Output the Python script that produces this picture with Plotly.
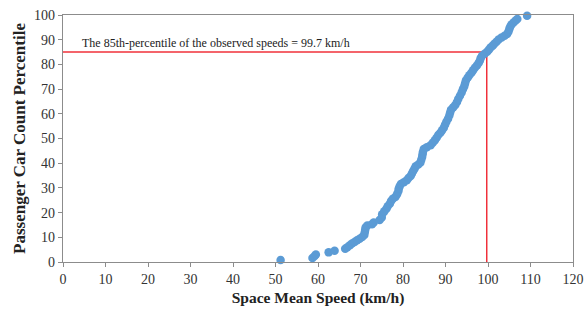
import plotly.graph_objects as go

speeds = [51.2, 58.7, 59.2, 59.5, 62.5, 63.9, 66.4, 66.9, 67.5, 68.0, 68.6, 69.2, 69.8, 70.4, 70.9,
          71.0, 71.1, 71.2, 71.6, 72.7, 73.1, 74.5, 75.0, 75.1, 75.6, 76.1, 76.4, 76.9, 77.2, 77.6,
          78.2, 78.6, 78.9, 79.0, 79.2, 79.5, 80.2, 80.9, 81.3, 81.8, 82.1, 82.4, 82.7, 83.0, 83.6,
          84.1, 84.3, 84.5, 84.6, 84.7, 84.9, 85.6, 86.5, 87.0, 87.5, 87.9, 88.3, 88.8, 89.2, 89.6,
          89.9, 90.2, 90.6, 90.9, 91.1, 91.3, 91.8, 92.3, 92.7, 93.0, 93.4, 93.8, 94.1, 94.4, 94.6,
          94.8, 95.2, 95.6, 96.1, 96.5, 96.9, 97.4, 97.8, 98.1, 98.3, 98.6, 99.2, 99.8, 100.2, 100.6,
          101.1, 101.5, 102.0, 102.5, 103.2, 103.9, 104.5, 104.8, 105.0, 105.2, 105.5, 106.0, 106.5,
          106.9, 109.2]
percentiles = [0.8, 1.6, 2.4, 3.0, 3.9, 4.6, 5.4, 6.0, 6.8, 7.5, 8.1, 8.8, 9.4, 10.1, 10.9,
               12.0, 13.0, 14.0, 14.8, 15.3, 16.0, 17.0, 18.0, 19.3, 20.5, 21.6, 22.6, 23.6, 24.7, 25.6,
               26.3, 27.4, 28.6, 29.7, 30.6, 31.6, 32.3, 33.1, 34.0, 34.8, 35.8, 36.8, 37.8, 38.8, 39.5,
               40.3, 41.4, 42.5, 43.6, 44.6, 45.7, 46.5, 47.3, 48.3, 49.3, 50.3, 51.4, 52.3, 53.3, 54.4,
               55.6, 56.8, 58.0, 59.3, 60.5, 61.6, 62.6, 63.6, 64.8, 66.0, 67.3, 68.6, 69.9, 71.1, 72.3,
               73.5, 74.6, 75.6, 76.6, 77.6, 78.6, 79.6, 80.6, 81.6, 82.6, 83.5, 84.3, 85.1, 85.9, 86.8,
               87.6, 88.4, 89.2, 90.1, 90.9, 91.6, 92.3, 93.2, 94.2, 95.2, 96.1, 97.0, 97.8,
               98.4, 99.7]

p85_level = 85
p85_speed = 99.7
label = "The 85th-percentile of the observed speeds = 99.7 km/h"
x_ticks = list(range(0, 121, 10))
y_ticks = list(range(0, 101, 10))

fig = go.Figure()
fig.add_trace(go.Scatter(
    x=speeds, y=percentiles, mode="markers",
    marker=dict(color="#5B9BD5", size=8.5, line=dict(width=0)),
    cliponaxis=False, showlegend=False,
))

fig.add_shape(type="line", x0=0, x1=p85_speed, y0=p85_level, y1=p85_level,
              line=dict(color="#F0303A", width=1.5), layer="below")
fig.add_shape(type="line", x0=p85_speed, x1=p85_speed, y0=0, y1=p85_level,
              line=dict(color="#F0303A", width=1.5), layer="below")

fig.add_annotation(x=4, y=88.8, text=label, showarrow=False, xanchor="left", yanchor="middle",
                   font=dict(family="Liberation Serif", size=12, color="#222"))

axis_common = dict(showgrid=False, zeroline=False, showline=True, linecolor="#8C8C8C", linewidth=1.3,
                   mirror=True, ticks="outside", ticklen=4, tickcolor="#8C8C8C", automargin=False,
                   tickfont=dict(family="Liberation Serif", size=14, color="#333"))

fig.update_xaxes(range=[0, 120], tickvals=x_ticks,
                 title=dict(text="<b>Space Mean Speed (km/h)</b>", standoff=6,
                            font=dict(family="Liberation Serif", size=15.5, color="#222")),
                 **axis_common)
fig.update_yaxes(range=[0, 100], tickvals=y_ticks,
                 title=dict(text="<b>Passenger Car Count Percentile</b>", standoff=4,
                            font=dict(family="Liberation Serif", size=17, color="#222")),
                 **axis_common)

fig.update_layout(width=584, height=318, margin=dict(l=63, r=11, t=15, b=56),
                  plot_bgcolor="white", paper_bgcolor="white")

fig.write_html("out.html", config={"displayModeBar": False},
               post_script="document.body.style.margin='0';document.body.style.overflow='hidden';")
